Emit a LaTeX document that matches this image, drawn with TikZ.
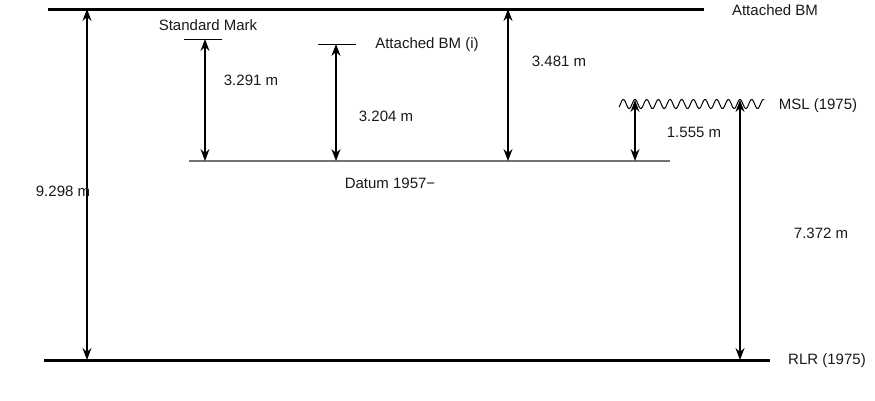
\documentclass[tikz,border=0pt]{standalone}
\usepackage{fontspec}
\setmainfont{Liberation Sans}
\usetikzlibrary{arrows.meta}
\begin{document}
\begin{tikzpicture}[x=1pt,y=-1pt,
  lbl/.style={font=\fontsize{15}{17}\selectfont, inner sep=0pt, text=black!90},
  level/.style={line width=3pt},
  datum/.style={line width=1.8pt, draw=black!55},
  tickline/.style={line width=1pt},
  tip/.style={Stealth[length=12pt,width=9pt,inset=4pt]},
  dim/.style={line width=1.1pt, {Stealth[length=12pt,width=9pt,inset=4pt]}-{Stealth[length=12pt,width=9pt,inset=4pt]}},
  wave/.style={line width=1pt}]
\useasboundingbox (0,0) rectangle (875,400);

% levels
\coordinate (topL) at (48,9);
\coordinate (topR) at (704,9);
\coordinate (botL) at (44,360);
\coordinate (botR) at (770,360);
\coordinate (datL) at (189,161);
\coordinate (datR) at (670,161);
\coordinate (smL) at (184,39);
\coordinate (smR) at (222,39);
\coordinate (abL) at (318,44);
\coordinate (abR) at (356,44);

\draw[level] (topL) -- (topR);
\draw[level] (botL) -- (botR);
\draw[datum] (datL) -- (datR);
\draw[tickline] (smL) -- (smR);
\draw[tickline] (abL) -- (abR);

% MSL wave
\draw[wave] plot[domain=-16:129, samples=300, smooth] ({\x+635}, {104-4.5*cos(\x*30.848)});

% arrow end points
\coordinate (a1t) at (87,9);   \coordinate (a1b) at (87,360);
\coordinate (a2t) at (205,39); \coordinate (a2b) at (205,161);
\coordinate (a3t) at (336,44); \coordinate (a3b) at (336,161);
\coordinate (a4t) at (508,9);  \coordinate (a4b) at (508,161);
\coordinate (a5t) at (635,100); \coordinate (a5b) at (635,161);
\coordinate (a6t) at (740,100); \coordinate (a6b) at (740,360);

\draw[dim] (a1t) -- (a1b);
\draw[dim] (a2t) -- (a2b);
\draw[dim] (a3t) -- (a3b);
\draw[dim] (a4t) -- (a4b);
\draw[dim] (a5t) -- (a5b);
\draw[dim] (a6t) -- (a6b);

% labels
\node[lbl] (tAB) at (775,10) {Attached BM};
\node[lbl] (tSM) at (208,25) {Standard Mark};
\node[lbl] (tABi) at (427,45) {Attached BM (i)};
\node[lbl] (t3291) at (251,80) {3.291 m};
\node[lbl] (t3204) at (386,116) {3.204 m};
\node[lbl] (t3481) at (559,61) {3.481 m};
\node[lbl] (tMSL) at (818,106) {MSL (1975)};
\node[lbl] (t1555) at (694,132) {1.555 m};
\node[lbl] (tDat) at (390,183) {Datum 1957\textminus};
\node[lbl] (t9298) at (63,191) {9.298 m};
\node[lbl] (t7372) at (821,233) {7.372 m};
\node[lbl] (tRLR) at (827,361) {RLR (1975)};
\end{tikzpicture}
\end{document}
